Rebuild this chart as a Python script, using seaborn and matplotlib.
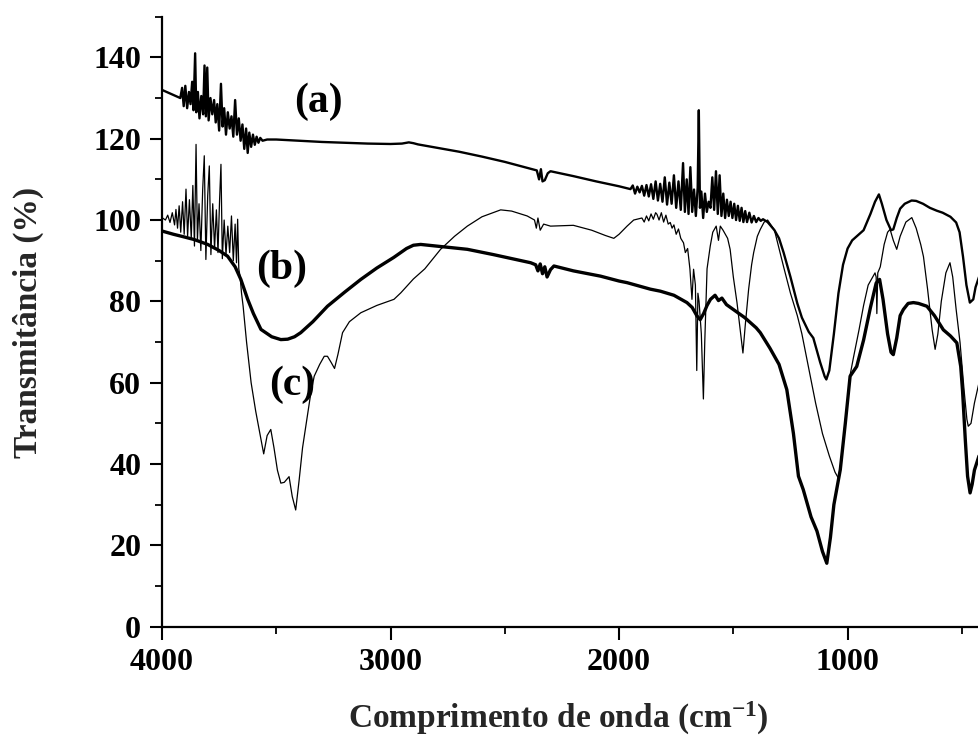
import matplotlib
matplotlib.use("Agg")
import matplotlib.pyplot as plt
from matplotlib.ticker import MultipleLocator
import seaborn as sns
import pandas as pd

# ---------------- data ----------------
wn_a = [4000, 3980, 3960, 3940, 3920, 3912, 3905, 3898, 3890, 3882, 3875, 3868, 3862, 3855,
        3850, 3843, 3836, 3828, 3820, 3814, 3808, 3802, 3796, 3788, 3780, 3772, 3765, 3758,
        3750, 3742, 3735, 3728, 3720, 3712, 3704, 3696, 3688, 3680, 3672, 3664, 3656, 3648,
        3640, 3632, 3625, 3618, 3610, 3602, 3594, 3586, 3578, 3570, 3560, 3540, 3500, 3400,
        3300, 3200, 3100, 3000, 2950, 2920, 2900, 2880, 2800, 2700, 2600, 2500, 2400, 2360,
        2350, 2342, 2335, 2325, 2312, 2300, 2200, 2100, 2000, 1950, 1940, 1930, 1920, 1910,
        1900, 1890, 1880, 1870, 1860, 1850, 1840, 1830, 1820, 1810, 1800, 1790, 1780, 1770,
        1760, 1750, 1740, 1730, 1720, 1712, 1704, 1696, 1688, 1680, 1672, 1664, 1656, 1651,
        1646, 1640, 1632, 1624, 1616, 1608, 1600, 1592, 1584, 1576, 1568, 1560, 1552, 1544,
        1536, 1528, 1520, 1512, 1504, 1496, 1488, 1480, 1472, 1464, 1456, 1448, 1440, 1430,
        1420, 1410, 1400, 1390, 1380, 1370, 1350, 1320, 1300, 1280, 1250, 1220, 1200, 1170,
        1150, 1120, 1100, 1093, 1080, 1060, 1040, 1020, 1000, 980, 950, 930, 900, 880, 863,
        850, 830, 810, 800, 785, 770, 750, 720, 700, 670, 640, 610, 584, 550, 525, 510, 495,
        480, 465, 450, 440, 425]
tr_a = [132.0, 131.5, 131.0, 130.5, 130.0, 132.5, 128.0, 133.0, 127.5, 131.5, 128.5, 134.0, 127.0, 141.0,
        126.5, 131.5, 125.0, 130.5, 126.0, 138.0, 125.5, 137.5, 124.5, 130.0, 126.0, 129.5, 124.0, 128.5,
        122.0, 133.5, 123.0, 127.5, 121.0, 126.5, 122.5, 125.5, 120.5, 129.5, 121.0, 125.0, 119.5, 123.5,
        117.5, 122.5, 116.5, 121.5, 118.0, 121.0, 118.5, 120.5, 119.0, 120.2, 119.5, 119.8, 119.8, 119.5,
        119.2, 119.0, 118.8, 118.7, 118.8, 119.1, 118.9, 118.6, 117.8, 116.8, 115.6, 114.3, 112.8, 112.2,
        110.0, 112.5, 109.5, 109.8, 111.5, 112.0, 110.8, 109.5, 108.3, 107.6, 108.5, 106.5, 108.2, 106.8,
        108.4, 106.0, 108.6, 105.8, 108.8, 105.2, 109.5, 104.8, 108.9, 104.5, 110.5, 103.8, 109.2, 104.0,
        111.0, 103.0, 109.5, 102.5, 114.0, 102.0, 110.0, 101.5, 113.0, 102.0, 107.5, 101.0, 108.0, 127.0,
        103.0, 107.0, 100.5, 106.5, 102.0, 104.5, 103.0, 110.5, 102.5, 112.0, 101.5, 111.0, 101.0, 106.5,
        100.5, 105.0, 101.0, 104.5, 100.5, 104.0, 100.0, 103.5, 99.8, 103.0, 99.5, 102.2, 99.5, 101.8,
        99.4, 101.0, 99.5, 100.5, 99.8, 100.2, 99.5, 97.5, 95.5, 92.0, 86.0, 79.5, 76.0, 72.5,
        71.0, 65.0, 61.5, 60.8, 63.0, 72.0, 82.0, 89.0, 93.0, 95.0, 96.5, 97.5, 101.5, 104.5, 106.3,
        104.0, 100.0, 97.5, 97.7, 100.5, 102.8, 104.0, 104.8, 104.7, 104.0, 103.0, 102.3, 101.8, 100.8, 99.4, 97.0, 91.0,
        84.0, 79.7, 80.5, 83.5, 86.0]

wn_b = [4000, 3950, 3900, 3859, 3800, 3750, 3713, 3680, 3655, 3625, 3600, 3567, 3520, 3480,
        3450, 3420, 3393, 3340, 3276, 3200, 3130, 3060, 2986, 2930, 2900, 2868, 2800, 2664,
        2550, 2387, 2365, 2355, 2345, 2335, 2325, 2315, 2300, 2285, 2200, 2081, 2000, 1965,
        1863, 1819, 1760, 1703, 1680, 1660, 1645, 1630, 1615, 1600, 1580, 1565, 1550, 1530,
        1500, 1450, 1400, 1382, 1340, 1300, 1266, 1237, 1215, 1194, 1160, 1134, 1110, 1091,
        1075, 1060, 1032, 1010, 989, 960, 930, 900, 875, 860, 845, 825, 810, 800, 785, 770,
        756, 735, 712, 690, 653, 620, 581, 550, 522, 505, 497, 485, 475, 464, 455, 445, 425]
tr_b = [97.3, 96.5, 95.8, 95.2, 94.0, 92.5, 91.1, 88.5, 85.4, 80.5, 77.0, 73.1, 71.3, 70.6,
        70.7, 71.3, 72.3, 75.0, 78.8, 82.3, 85.4, 88.2, 90.8, 93.0, 93.8, 94.0, 93.6, 92.8,
        91.5, 89.5, 89.0, 87.5, 89.2, 86.8, 88.5, 86.0, 87.8, 88.7, 87.5, 86.2, 85.0, 84.6,
        83.0, 82.5, 81.5, 79.7, 78.5, 76.5, 75.5, 77.0, 79.0, 80.5, 81.5, 80.2, 80.8, 79.2,
        78.0, 76.0, 73.5, 72.3, 68.5, 64.5, 58.3, 47.5, 37.0, 33.7, 27.0, 23.5, 18.5, 15.6,
        22.0, 30.0, 38.6, 50.0, 61.6, 64.0, 70.5, 78.5, 84.5, 85.4, 80.5, 72.0, 67.5, 66.9, 71.0, 76.5,
        78.0, 79.5, 79.7, 79.5, 78.8, 76.5, 73.0, 71.5, 69.8, 64.0, 58.0, 46.0, 37.0, 32.9, 35.0, 38.5, 42.0]

wn_c = [4000, 3985, 3975, 3965, 3955, 3945, 3939, 3932, 3925, 3918, 3910, 3903, 3895, 3888,
        3880, 3872, 3865, 3858, 3851, 3845, 3838, 3830, 3822, 3815, 3808, 3800, 3793, 3786,
        3778, 3770, 3762, 3755, 3748, 3742, 3736, 3728, 3720, 3712, 3704, 3696, 3688, 3680,
        3674, 3669, 3664, 3658, 3652, 3645, 3630, 3610, 3590, 3575, 3555, 3540, 3524, 3510,
        3495, 3480, 3465, 3444, 3430, 3415, 3400, 3385, 3364, 3350, 3334, 3310, 3290, 3276,
        3260, 3245, 3230, 3210, 3180, 3130, 3060, 2985, 2955, 2900, 2850, 2781, 2720, 2664,
        2600, 2518, 2470, 2402, 2370, 2362, 2355, 2345, 2330, 2300, 2200, 2120, 2060, 2023,
        2000, 1965, 1936, 1900, 1890, 1880, 1870, 1860, 1850, 1840, 1834, 1825, 1815, 1805,
        1795, 1785, 1776, 1768, 1760, 1750, 1740, 1730, 1718, 1710, 1700, 1690, 1681, 1674,
        1666, 1660, 1655, 1650, 1640, 1631, 1625, 1615, 1601, 1590, 1575, 1565, 1557, 1545,
        1535, 1525, 1514, 1500, 1484, 1470, 1458, 1448, 1433, 1420, 1411, 1395, 1382, 1365,
        1350, 1320, 1300, 1280, 1250, 1220, 1200, 1170, 1140, 1110, 1080, 1055, 1040, 1030,
        1015, 1000, 990, 975, 950, 930, 910, 880, 875, 872, 868, 857, 840, 825, 814, 800, 785,
        770, 745, 719, 700, 680, 668, 650, 630, 617, 605, 590, 570, 552, 540, 525, 508, 490,
        478, 472, 460, 445, 425]
tr_c = [100.6, 100.0, 101.2, 99.4, 101.8, 98.8, 102.6, 98.0, 103.5, 97.0, 104.5, 96.5, 107.6, 96.0,
        105.0, 95.5, 108.5, 93.6, 118.6, 95.0, 104.0, 92.5, 107.5, 115.8, 90.3, 106.0, 113.3, 91.5,
        104.0, 93.0, 102.5, 92.0, 105.0, 113.7, 90.5, 100.0, 91.5, 98.5, 92.0, 101.0, 90.0, 99.0,
        89.5, 100.2, 88.0, 86.0, 82.0, 78.8, 70.0, 60.0, 53.0, 48.5, 42.5, 47.0, 48.5, 44.0,
        38.5, 35.3, 35.5, 36.9, 32.0, 28.7, 36.0, 44.0, 51.7, 57.0, 61.6, 64.5, 66.5, 66.5,
        65.0, 63.5, 67.0, 72.3, 75.0, 77.2, 79.0, 80.5, 82.1, 85.5, 88.0, 92.8, 96.0, 98.5,
        100.8, 102.5, 102.2, 101.0, 100.0, 98.0, 100.5, 97.5, 99.0, 98.5, 98.7, 97.5, 96.2, 95.5,
        96.5, 98.5, 100.0, 100.5, 99.5, 101.0, 99.8, 101.5, 100.2, 101.8, 101.4, 100.0, 101.8, 99.5,
        101.2, 99.0, 99.4, 98.0, 98.8, 96.5, 97.8, 95.5, 94.4, 92.0, 93.0, 88.0, 80.5, 87.9,
        84.0, 63.0, 82.0, 80.0, 72.0, 56.0, 70.0, 88.0, 93.6, 97.0, 98.5, 95.0, 98.5, 97.5,
        96.5, 95.5, 92.8, 86.0, 79.7, 73.0, 67.3, 74.0, 83.0, 89.0, 92.0, 96.0, 97.7, 99.5,
        100.0, 97.5, 93.0, 88.5, 82.0, 76.5, 72.0, 63.5, 55.0, 47.5, 42.0, 38.0, 36.5, 40.0,
        48.0, 56.0, 61.6, 66.0, 73.0, 79.0, 84.0, 87.0, 86.0, 77.0, 87.0, 88.5, 94.0, 97.0, 97.7, 95.0, 92.8,
        96.0, 99.5, 100.6, 98.0, 94.0, 91.0, 83.0, 73.0, 68.2, 72.0, 80.0, 87.0, 89.5, 86.0, 78.0, 69.9, 58.0,
        51.0, 49.3, 50.0, 55.0, 60.0]

labels = ["(a)", "(b)", "(c)"]
label_pos_x = [3314, 3476, 3432]
label_pos_y = [129.0, 87.9, 59.5]

# ---------------- style ----------------
sns.set_style("ticks")
plt.rcParams["font.family"] = ["Liberation Serif", "DejaVu Serif"]
plt.rcParams["font.weight"] = "bold"
plt.rcParams["mathtext.fontset"] = "custom"
plt.rcParams["mathtext.rm"] = "Liberation Serif:bold"
plt.rcParams["mathtext.bf"] = "Liberation Serif:bold"
plt.rcParams["mathtext.it"] = "Liberation Serif:bold"

fig = plt.figure(figsize=(9.79, 7.49), dpi=100)
ax = fig.add_axes([162 / 979, (749 - 626.7) / 749, 1 - 162 / 979, 610 / 749])

df_a = pd.DataFrame({"wn": wn_a, "T": tr_a})
df_b = pd.DataFrame({"wn": wn_b, "T": tr_b})
df_c = pd.DataFrame({"wn": wn_c, "T": tr_c})

sns.lineplot(data=df_c, x="wn", y="T", ax=ax, color="black", lw=0.9,
             sort=False, estimator=None)
sns.lineplot(data=df_a, x="wn", y="T", ax=ax, color="black", lw=1.7,
             sort=False, estimator=None)
sns.lineplot(data=df_b, x="wn", y="T", ax=ax, color="black", lw=2.4,
             sort=False, estimator=None)

for lab, lx, ly in zip(labels, label_pos_x, label_pos_y):
    ax.text(lx, ly, lab, fontsize=30, fontweight="bold", ha="center", va="center",
            color="black")

ax.set_xlim(4000, 425)
ax.set_ylim(0, 150)
ax.xaxis.set_major_locator(MultipleLocator(1000))
ax.xaxis.set_minor_locator(MultipleLocator(500))
ax.yaxis.set_major_locator(MultipleLocator(20))
ax.yaxis.set_minor_locator(MultipleLocator(10))
ax.set_yticks([0, 20, 40, 60, 80, 100, 120, 140])

for s in ["top", "right"]:
    ax.spines[s].set_visible(False)
for s in ["left", "bottom"]:
    ax.spines[s].set_linewidth(1.6)
    ax.spines[s].set_color("black")

ax.tick_params(axis="both", which="major", direction="out", length=9, width=1.5,
               labelsize=23, pad=6, colors="black")
ax.tick_params(axis="both", which="minor", direction="out", length=5, width=1.3,
               colors="black")
for t in ax.get_xticklabels() + ax.get_yticklabels():
    t.set_fontweight("bold")

ax.set_xlabel("")
ax.set_ylabel("")
fig.text(558 / 979, 1 - 718 / 749, "Comprimento de onda (cm$^{\\mathrm{-1}}$)",
         fontsize=24, fontweight="bold", ha="center", va="center")
fig.text(28 / 979, 1 - 322 / 749, "Transmitância (%)", rotation=90,
         fontsize=24, fontweight="bold", ha="center", va="center")

fig.savefig("out.png", dpi=100)
